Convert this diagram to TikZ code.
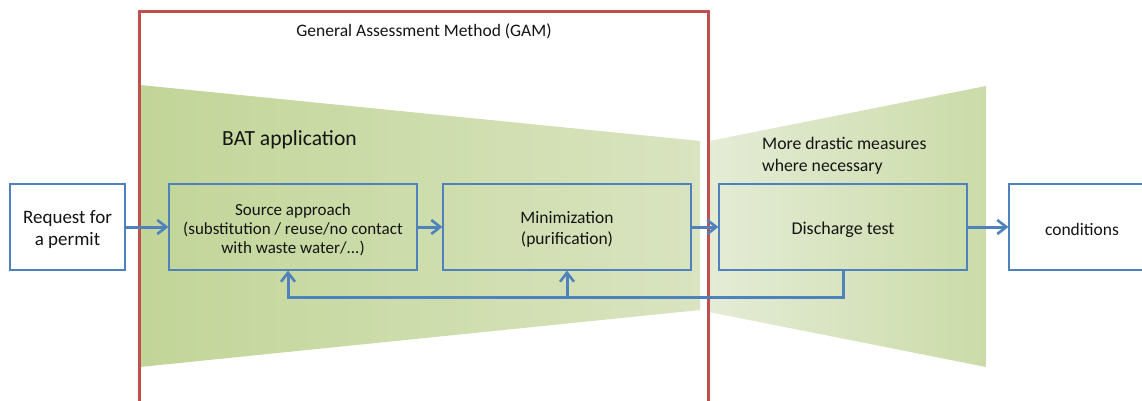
\documentclass[tikz,border=0pt]{standalone}
\usepackage{fontspec}
\setmainfont{Carlito}
\usetikzlibrary{arrows.meta}
\definecolor{gamred}{RGB}{192,80,77}
\definecolor{flowblue}{RGB}{79,129,189}
\definecolor{gA}{RGB}{194,213,152}
\definecolor{gB}{RGB}{217,228,192}
\definecolor{gC}{RGB}{228,236,214}
\definecolor{gD}{RGB}{203,219,168}
\definecolor{txt}{RGB}{20,20,20}
\tikzset{
  stepbox/.style={draw=flowblue, line width=1.2pt, minimum height=86pt, inner sep=0pt},
  conn/.style={draw=flowblue, line width=3pt, -{Straight Barb[length=9pt,width=14pt,line width=2.6pt]}},
  lbl/.style={text=txt, inner sep=0pt, align=left},
  boxtxt/.style={text=txt, inner sep=0pt, align=center, yshift=-2.5pt}
}
\newcommand{\fs}[1]{\fontsize{#1}{1.22\dimexpr #1pt\relax}\selectfont}
\begin{document}
\begin{tikzpicture}[x=1pt,y=-1pt]
\useasboundingbox (0,0) rectangle (1142,401);
\fill[white] (0,0) rectangle (1142,401);
% funnels
\shade[left color=gA, right color=gB] (140,85) -- (700,141) -- (700,310) -- (140,367) -- cycle;
\shade[left color=gC, right color=gD] (709,141) -- (986,86) -- (986,367) -- (709,312) -- cycle;
% GAM frame
\draw[gamred, line width=3pt] (139,410) -- (139,12) -- (708,12) -- (708,410);
\node[lbl, font=\fs{17.5}] (gam) at (424,31) {General Assessment Method (GAM)};
\node[lbl, font=\fs{21.6}, anchor=west] (bat) at (222,139.5) {BAT application};
\node[lbl, font=\fs{17.7}, anchor=west] (more) at (762,155.5) {More drastic measures\\where necessary};
% boxes
\node[stepbox, fill=white, minimum width=115pt] (req) at (67.5,227) {};
\node[stepbox, minimum width=248pt] (src) at (293,227) {};
\node[stepbox, minimum width=248pt] (min) at (567,227) {};
\node[stepbox, minimum width=248pt] (dis) at (843,227) {};
\node[stepbox, fill=white, minimum width=150pt] (cond) at (1084,227) {};
% box texts
\node[boxtxt, font={\fontsize{19}{22.8pt}\selectfont}] (reqt) at (req.center) {Request for\\a permit};
\node[boxtxt, font={\fontsize{17}{19.2pt}\selectfont}] (srct) at (src.center) {Source approach\\(substitution / reuse/no contact\\with waste water/...)};
\node[boxtxt, font=\fs{17.5}] (mint) at (min.center) {Minimization\\(purification)};
\node[boxtxt, font=\fs{18}] (dist) at (dis.center) {Discharge test};
\node[boxtxt, font=\fs{17.5}] (condt) at ([xshift=-2pt]cond.center) {conditions};
% connectors
\draw[conn] (req.east) -- (src.west);
\draw[conn] (src.east) -- (min.west);
\draw[conn] (min.east) -- (dis.west);
\draw[conn] (dis.east) -- (cond.west);
\draw[conn] (dis.south) -- ++(0,27) coordinate (fb) -| ([xshift=-5pt]src.south);
\draw[conn] (min.south |- fb) -- (min.south);
\end{tikzpicture}
\end{document}
